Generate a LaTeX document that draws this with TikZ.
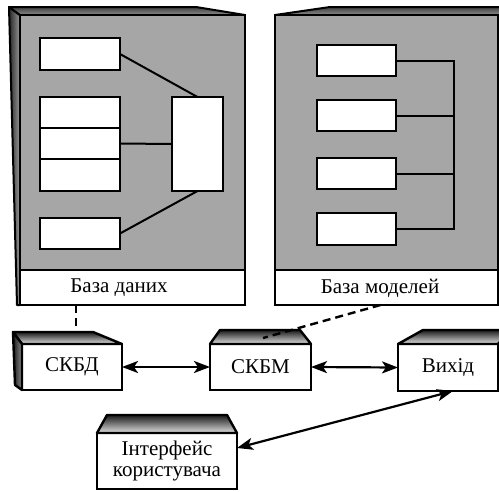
\documentclass[tikz,border=0pt]{standalone}
\usepackage{fontspec}
\setmainfont{Liberation Serif}
\usetikzlibrary{arrows.meta,calc}
\definecolor{panelgray}{RGB}{166,166,166}
\begin{document}
\begin{tikzpicture}[x=1pt,y=-1pt,
  font=\fontsize{21}{21}\selectfont,
  panelfront/.style={fill=panelgray,inner sep=0pt,outer sep=0pt},
  labelarea/.style={fill=white,inner sep=0pt,outer sep=0pt},
  frameline/.style={draw=black,line width=2.4pt,line join=miter},
  cell/.style={draw=black,fill=white,line width=2.6pt,inner sep=0pt,outer sep=0pt,minimum width=80pt},
  wire/.style={draw=black,line width=2pt},
  cube/.style={draw=black,fill=white,line width=2.8pt,inner sep=0pt,outer sep=0pt,align=center},
  topface/.style={draw=black,line width=2.4pt,line join=round,top color=black!90,bottom color=black!12},
  sideface/.style={draw=black,line width=2.4pt,line join=round,left color=black!90,right color=black!45},
  ptop/.style={draw=black,line width=2pt,line join=round,top color=black!75,bottom color=black!45},
  pside/.style={draw=black,line width=2pt,line join=round,left color=black!85,right color=black!40},
  link/.style={draw=black,line width=2.2pt,{Stealth[length=16pt,width=12pt,inset=4pt]}-{Stealth[length=16pt,width=12pt,inset=4pt]}},
  dashlink/.style={draw=black,line width=2.4pt,dash pattern=on 8pt off 5pt}
]
\useasboundingbox (0,0) rectangle (499,491);
\clip (0,0) rectangle (499,491);

% ---------- left panel: database ----------
\path[pside] (20,15) -- (9,7) -- (17,305) -- (20,305) -- cycle;
\path[ptop] (20,15) -- (9,7) -- (196,7) -- (245,15) -- cycle;
\node[panelfront,minimum width=225pt,minimum height=290pt] (dbpanel) at (132.5,160) {};
\node[labelarea,minimum width=225pt,minimum height=35pt] (dblabel) at (132.5,287.5) {};
\draw[frameline] (dbpanel.north west) rectangle (dbpanel.south east);
\draw[frameline] (dblabel.north west) -- (dblabel.north east);
\node (dbtext) at (119,288) {База даних};

\node[cell,minimum height=32pt] (b1) at (80,54) {};
\node[cell,minimum height=31pt] (s1) at (80,112.5) {};
\node[cell,minimum height=31pt] (s2) at (80,143.5) {};
\node[cell,minimum height=32pt] (s3) at (80,175) {};
\node[cell,minimum height=31pt] (b5) at (80,233.5) {};
\node[cell,minimum width=51pt,minimum height=94pt] (big) at (197.5,144) {};
\draw[wire] (b1.east) -- (big.north);
\draw[wire] (s2.east) -- (big.west);
\draw[wire] (b5.east) -- (big.south);

% ---------- right panel: model base ----------
\path[ptop] (275,15) -- (330,7) -- (505,7) -- (505,15) -- cycle;
\node[panelfront,minimum width=223pt,minimum height=290pt] (mlpanel) at (386.5,160) {};
\node[labelarea,minimum width=223pt,minimum height=35pt] (mllabel) at (386.5,287.5) {};
\draw[frameline] (mlpanel.north west) rectangle (mlpanel.south east);
\draw[frameline] (mllabel.north west) -- (mllabel.north east);
\node (mltext) at (380,288) {База моделей};

\node[cell,minimum width=79pt,minimum height=31pt] (m1) at (356.5,60.5) {};
\node[cell,minimum width=79pt,minimum height=31pt] (m2) at (356.5,115.5) {};
\node[cell,minimum width=79pt,minimum height=31pt] (m3) at (356.5,173.5) {};
\node[cell,minimum width=79pt,minimum height=32pt] (m4) at (356.5,229) {};
\coordinate (bus) at (454,0);
\draw[wire] (m1.east) -- (m1.east -| bus) -- (m4.east -| bus) -- (m4.east);
\draw[wire] (m2.east) -- (m2.east -| bus);
\draw[wire] (m3.east) -- (m3.east -| bus);

% ---------- control blocks ----------
\node[cube,minimum width=100pt,minimum height=46pt] (skbd) at (72,367) {СКБД};
\path[topface] (skbd.north west) -- ++(-9,-12) -- ($(skbd.north east)+(-29,-12)$) -- (skbd.north east) -- cycle;
\path[sideface] (skbd.north west) -- ++(-9,-12) -- ($(skbd.south west)+(-7,-5)$) -- (skbd.south west) -- cycle;

\node[cube,minimum width=101pt,minimum height=46pt] (skbm) at (260.5,367) {СКБМ};
\path[topface] (skbm.north west) -- ++(10,-14) -- ($(skbm.north east)+(-11,-14)$) -- (skbm.north east) -- cycle;

\node[cube,minimum width=100pt,minimum height=47pt] (vyhid) at (448,367.5) {Вихід};
\path[topface] (vyhid.north west) -- ++(25,-14) -- ($(vyhid.north east)+(12,-14)$) -- (vyhid.north east) -- cycle;

\node[cube,minimum width=140pt,minimum height=56pt] (iface) at (167,461) {Інтерфейс\\користувача};
\path[topface] (iface.north west) -- ++(10,-18) -- ($(iface.north east)+(-10,-18)$) -- (iface.north east) -- cycle;

% ---------- links ----------
\draw[dashlink] ([xshift=4pt]skbd.north |- dblabel.south) -- ([xshift=4pt,yshift=12pt]skbd.north);
\draw[dashlink] ([xshift=-6pt]mllabel.south) -- ([xshift=2.5pt,yshift=6pt]skbm.north);
\draw[link] (skbd.east) -- (skbm.west);
\draw[link] (skbm.east) -- (vyhid.west);
\draw[link] ([yshift=13pt]iface.east) -- ([xshift=5pt]vyhid.south);
\end{tikzpicture}
\end{document}
